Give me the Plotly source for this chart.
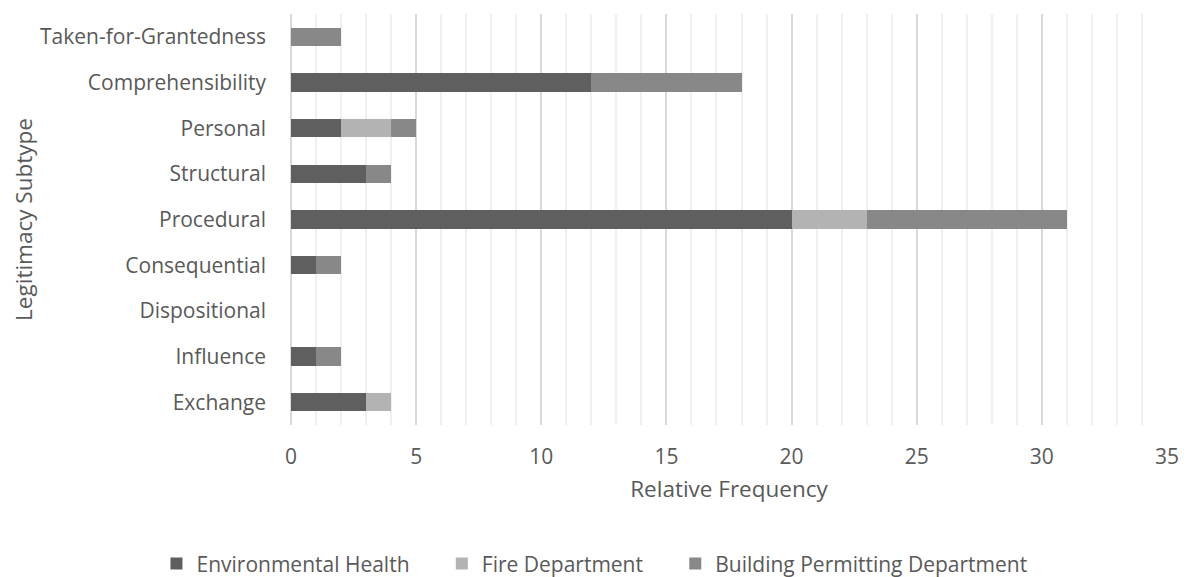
import plotly.graph_objects as go

# Data (top to bottom as shown in the chart)
subtypes = [
    "Taken-for-Grantedness",
    "Comprehensibility",
    "Personal",
    "Structural",
    "Procedural",
    "Consequential",
    "Dispositional",
    "Influence",
    "Exchange",
]
environmental_health = [0, 12, 2, 3, 20, 1, 0, 1, 3]
fire_department = [0, 0, 2, 0, 3, 0, 0, 0, 1]
building_permitting = [2, 6, 1, 1, 8, 1, 0, 1, 0]

FONT = "Open Sans"
TEXT = "#595959"
PAD = "\u00a0" * 5  # extra room between legend entries

fig = go.Figure()

for name, vals, color in [
    ("Environmental Health" + PAD, environmental_health, "#5f5f5f"),
    ("Fire Department" + PAD, fire_department, "#b3b3b3"),
    ("Building Permitting Department", building_permitting, "#888888"),
]:
    fig.add_trace(
        go.Bar(
            y=subtypes,
            x=vals,
            name=name,
            orientation="h",
            marker=dict(color=color, line=dict(width=0)),
            width=0.4,
        )
    )

# page has an 8px body margin, so the figure is a bit smaller than the window
fig.update_layout(
    barmode="stack",
    width=1180,
    height=569,
    plot_bgcolor="white",
    paper_bgcolor="white",
    font=dict(family=FONT, size=21, color=TEXT),
    margin=dict(l=283, r=21, t=6, b=152, autoexpand=False),
    xaxis=dict(
        range=[0, 35],
        dtick=5,
        tickangle=0,
        automargin=False,
        showgrid=True,
        gridcolor="#d9d9d9",
        gridwidth=1.5,
        minor=dict(dtick=1, showgrid=True, gridcolor="#f0f0f0", gridwidth=1.5),
        zeroline=True,
        zerolinecolor="#d9d9d9",
        zerolinewidth=1.5,
        ticks="",
        ticklabelstandoff=17,
        tickfont=dict(size=21, color=TEXT),
        title=dict(text="Relative Frequency", font=dict(size=22.5, color=TEXT), standoff=12),
        fixedrange=True,
    ),
    yaxis=dict(
        categoryorder="array",
        categoryarray=subtypes,
        autorange="reversed",
        automargin=False,
        showgrid=False,
        ticks="",
        ticklabelstandoff=24,
        tickfont=dict(size=21, color=TEXT),
        title=dict(text="Legitimacy Subtype", font=dict(size=22.5, color=TEXT), standoff=15),
    ),
    legend=dict(
        orientation="h",
        traceorder="normal",
        xref="container",
        yref="container",
        x=0.497,
        xanchor="center",
        y=0.023,
        yanchor="middle",
        font=dict(size=21, color=TEXT),
        itemwidth=30,
    ),
    bargap=0.6,
)

fig.write_html("out.html")
